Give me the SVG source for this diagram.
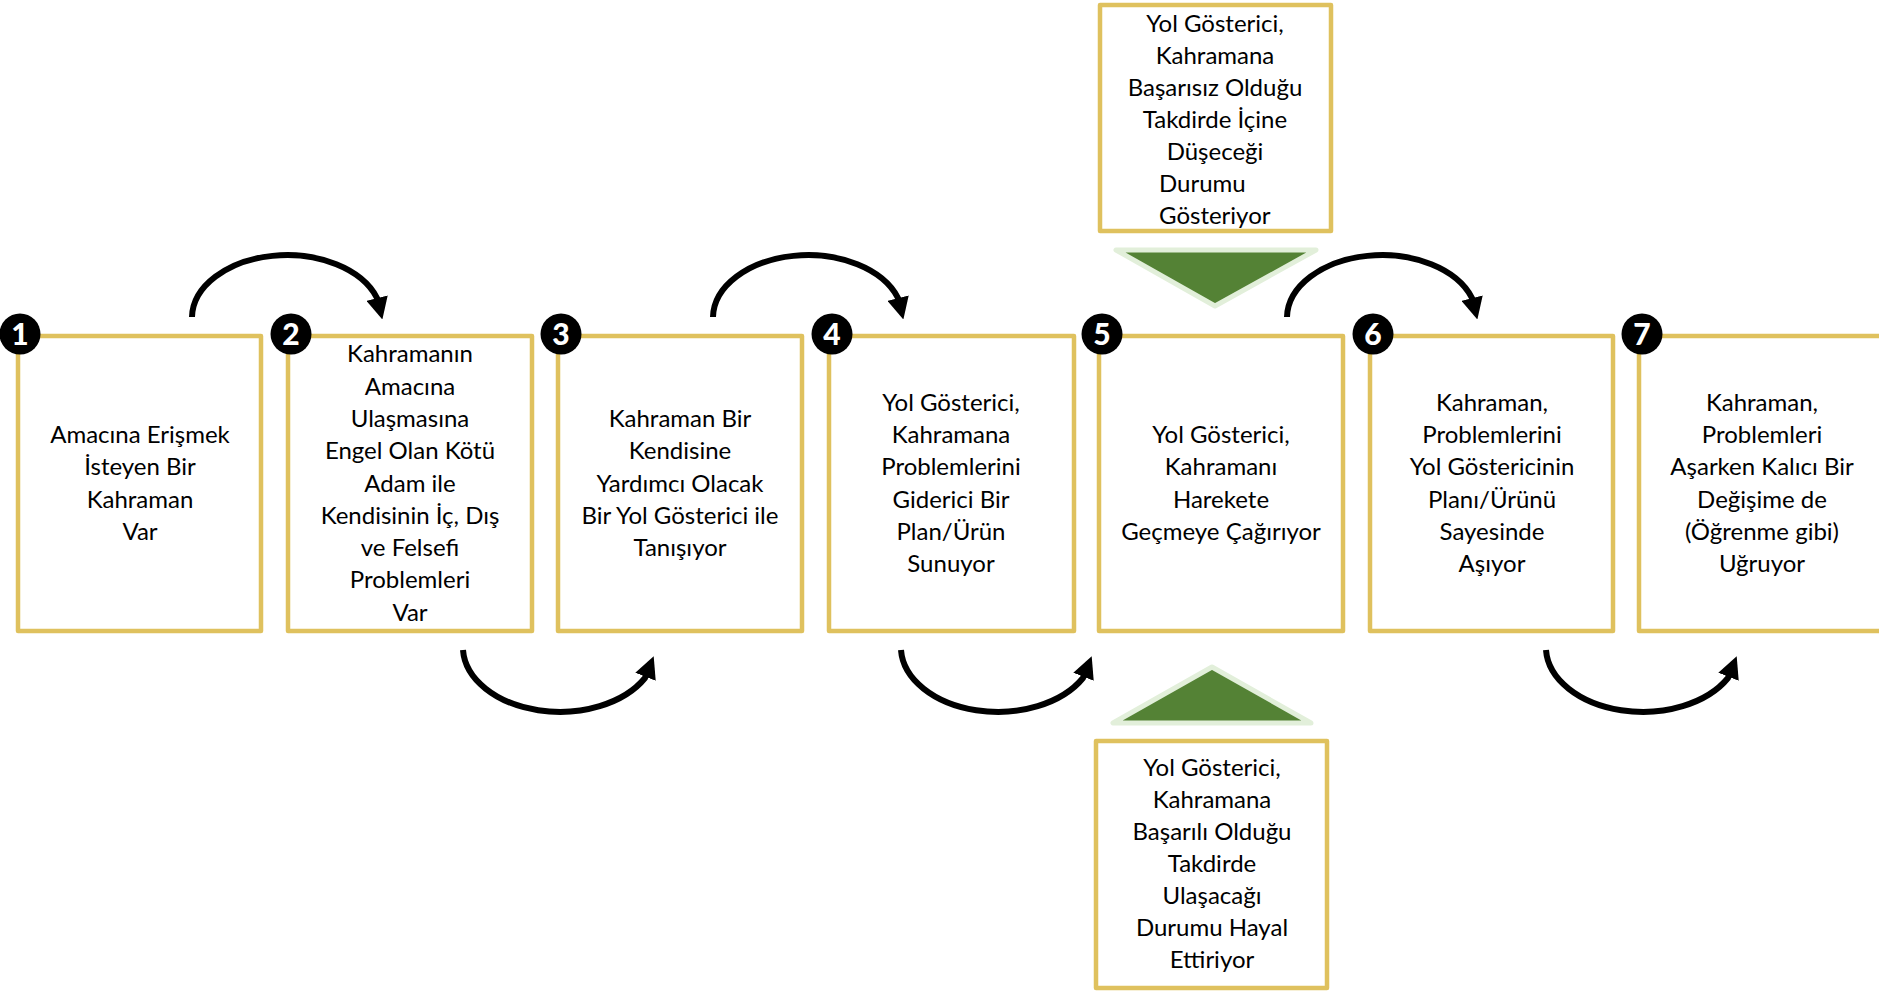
<svg xmlns="http://www.w3.org/2000/svg" width="1879" height="991" viewBox="0 0 1879 991">
  <style>
    .box { fill: #ffffff; stroke: #DFC15E; stroke-width: 4.5; stroke-linejoin: round; }
    .txt { font-family: Lato, "Open Sans", "DejaVu Sans", sans-serif; font-size: 24px; fill: #000000; text-anchor: middle; }
    .txtl { font-family: Lato, "Open Sans", "DejaVu Sans", sans-serif; font-size: 24px; fill: #000000; text-anchor: start; }
    .badge { fill: #000000; }
    .num { font-family: Lato, "Liberation Sans", sans-serif; font-size: 30px; font-weight: 900; fill: #ffffff; text-anchor: middle; }
    .tri { fill: #548235; stroke: #E2EFDA; stroke-width: 5; stroke-linejoin: round; }
    .arc { fill: none; stroke: #000000; stroke-width: 6; }
  </style>
  <defs>
    <marker id="ah" markerUnits="userSpaceOnUse" markerWidth="22" markerHeight="22" viewBox="0 0 22 22" refX="4" refY="11" orient="auto">
      <path d="M0,0 L22,11 L0,22 z" fill="#000000"/>
    </marker>
  </defs>
  <rect width="1879" height="991" fill="#ffffff"/>

  <g id="connectors">
    <path class="arc" marker-end="url(#ah)" d="M192 317 A95 63 0 0 1 377 298 l1 4"/>
    <path class="arc" marker-end="url(#ah)" transform="translate(521 0)" d="M192 317 A95 63 0 0 1 377 298 l1 4"/>
    <path class="arc" marker-end="url(#ah)" transform="translate(1095 0)" d="M192 317 A95 63 0 0 1 377 298 l1 4"/>
    <path class="arc" marker-end="url(#ah)" d="M463 650 A97 65 0 0 0 645 678 l2 -5"/>
    <path class="arc" marker-end="url(#ah)" transform="translate(438 0)" d="M463 650 A97 65 0 0 0 645 678 l2 -5"/>
    <path class="arc" marker-end="url(#ah)" transform="translate(1083 0)" d="M463 650 A97 65 0 0 0 645 678 l2 -5"/>
  </g>

  <g id="step1">
    <rect class="box" x="18" y="336" width="243" height="295"/>
    <text class="txt" y="443"><tspan x="140">Amacına Erişmek</tspan><tspan x="140" dy="32.3">İsteyen Bir</tspan><tspan x="140" dy="32.3">Kahraman</tspan><tspan x="140" dy="32.3">Var</tspan></text>
    <circle class="badge" cx="20" cy="334" r="20.5"/>
    <text class="num" x="20" y="345">1</text>
  </g>

  <g id="step2">
    <rect class="box" x="288" y="336" width="244" height="295"/>
    <text class="txt" y="362.3"><tspan x="410">Kahramanın</tspan><tspan x="410" dy="32.3">Amacına</tspan><tspan x="410" dy="32.3">Ulaşmasına</tspan><tspan x="410" dy="32.3">Engel Olan Kötü</tspan><tspan x="410" dy="32.3">Adam ile</tspan><tspan x="410" dy="32.3">Kendisinin İç, Dış</tspan><tspan x="410" dy="32.3">ve Felsefi</tspan><tspan x="410" dy="32.3">Problemleri</tspan><tspan x="410" dy="32.3">Var</tspan></text>
    <circle class="badge" cx="291" cy="334" r="20.5"/>
    <text class="num" x="291" y="345">2</text>
  </g>

  <g id="step3">
    <rect class="box" x="558" y="336" width="244" height="295"/>
    <text class="txt" y="426.9"><tspan x="680">Kahraman Bir</tspan><tspan x="680" dy="32.3">Kendisine</tspan><tspan x="680" dy="32.3">Yardımcı Olacak</tspan><tspan x="680" dy="32.3">Bir Yol Gösterici ile</tspan><tspan x="680" dy="32.3">Tanışıyor</tspan></text>
    <circle class="badge" cx="561" cy="334" r="20.5"/>
    <text class="num" x="561" y="345">3</text>
  </g>

  <g id="step4">
    <rect class="box" x="829" y="336" width="245" height="295"/>
    <text class="txt" y="410.8"><tspan x="951">Yol Gösterici,</tspan><tspan x="951" dy="32.3">Kahramana</tspan><tspan x="951" dy="32.3">Problemlerini</tspan><tspan x="951" dy="32.3">Giderici Bir</tspan><tspan x="951" dy="32.3">Plan/Ürün</tspan><tspan x="951" dy="32.3">Sunuyor</tspan></text>
    <circle class="badge" cx="832" cy="334" r="20.5"/>
    <text class="num" x="832" y="345">4</text>
  </g>

  <g id="step5">
    <rect class="box" x="1099" y="336" width="244" height="295"/>
    <text class="txt" y="443"><tspan x="1221">Yol Gösterici,</tspan><tspan x="1221" dy="32.3">Kahramanı</tspan><tspan x="1221" dy="32.3">Harekete</tspan><tspan x="1221" dy="32.3">Geçmeye Çağırıyor</tspan></text>
    <circle class="badge" cx="1102" cy="334" r="20.5"/>
    <text class="num" x="1102" y="345">5</text>
  </g>

  <g id="step6">
    <rect class="box" x="1370" y="336" width="243" height="295"/>
    <text class="txt" y="410.8"><tspan x="1492">Kahraman,</tspan><tspan x="1492" dy="32.3">Problemlerini</tspan><tspan x="1492" dy="32.3">Yol Göstericinin</tspan><tspan x="1492" dy="32.3">Planı/Ürünü</tspan><tspan x="1492" dy="32.3">Sayesinde</tspan><tspan x="1492" dy="32.3">Aşıyor</tspan></text>
    <circle class="badge" cx="1373" cy="334" r="20.5"/>
    <text class="num" x="1373" y="345">6</text>
  </g>

  <g id="step7">
    <rect class="box" x="1639" y="336" width="244" height="295"/>
    <text class="txt" y="410.8"><tspan x="1762">Kahraman,</tspan><tspan x="1762" dy="32.3">Problemleri</tspan><tspan x="1762" dy="32.3">Aşarken Kalıcı Bir</tspan><tspan x="1762" dy="32.3">Değişime de</tspan><tspan x="1762" dy="32.3">(Öğrenme gibi)</tspan><tspan x="1762" dy="32.3">Uğruyor</tspan></text>
    <circle class="badge" cx="1642" cy="334" r="20.5"/>
    <text class="num" x="1642" y="345">7</text>
  </g>

  <g id="failure">
    <rect class="box" x="1100" y="5" width="231" height="226"/>
    <text class="txt" y="31.5"><tspan x="1215">Yol Gösterici,</tspan><tspan x="1215" dy="32">Kahramana</tspan><tspan x="1215" dy="32">Başarısız Olduğu</tspan><tspan x="1215" dy="32">Takdirde İçine</tspan><tspan x="1215" dy="32">Düşeceği</tspan></text>
    <text class="txtl" x="1159" y="191.5">Durumu</text>
    <text class="txtl" x="1159" y="223.5">Gösteriyor</text>
    <polygon class="tri" points="1116,250 1316,250 1215,306"/>
  </g>

  <g id="success">
    <polygon class="tri" points="1113,723 1311,723 1212,667"/>
    <rect class="box" x="1096" y="741" width="231" height="247"/>
    <text class="txt" y="776"><tspan x="1212">Yol Gösterici,</tspan><tspan x="1212" dy="32">Kahramana</tspan><tspan x="1212" dy="32">Başarılı Olduğu</tspan><tspan x="1212" dy="32">Takdirde</tspan><tspan x="1212" dy="32">Ulaşacağı</tspan><tspan x="1212" dy="32">Durumu Hayal</tspan><tspan x="1212" dy="32">Ettiriyor</tspan></text>
  </g>
</svg>
